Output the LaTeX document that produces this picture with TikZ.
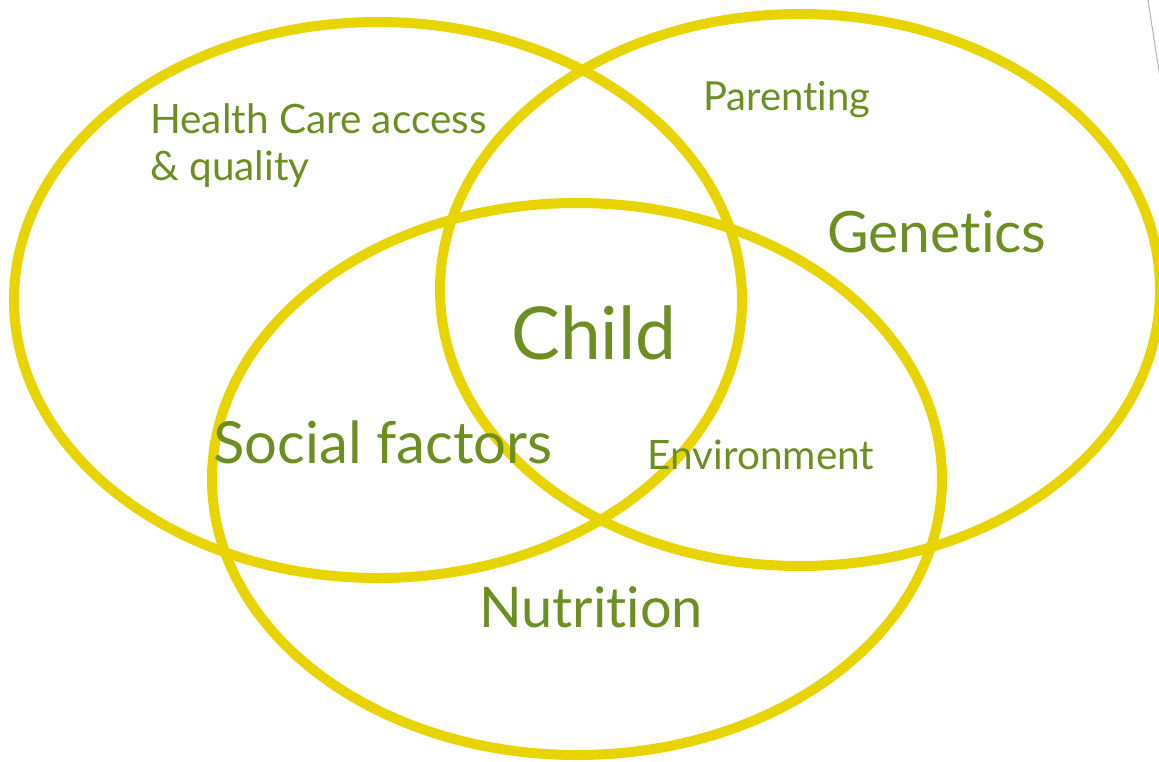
\documentclass[tikz,border=0pt]{standalone}
\usepackage{fontspec}
\setmainfont{Lato}[Ligatures={NoCommon,NoRare}]
\usepackage{tikz}

\definecolor{ringyellow}{RGB}{232,212,0}
\definecolor{labelgreen}{RGB}{109,143,34}

\begin{document}
\begin{tikzpicture}[x=1pt, y=-1pt,
  ring/.style={draw=ringyellow, line width=10pt},
  every node/.style={text=labelgreen, inner sep=0pt, anchor=center}]
  \useasboundingbox (0,0) rectangle (1159,761);
  \fill[white] (0,0) rectangle (1159,761);
  \draw[gray!60, line width=1pt] (1148,0) -- (1160,78);
  \draw[ring] (378,300) ellipse [x radius=364pt, y radius=278pt];
  \draw[ring] (800,290) ellipse [x radius=360pt, y radius=276pt];
  \draw[ring] (577,479) ellipse [x radius=365pt, y radius=276pt];
  \node [anchor=base west, align=left, font=\fontsize{40.5}{47}\selectfont] (health) at (150,180) {Health Care access\\\& quality};
  \node [font=\fontsize{40}{44}\selectfont] (parenting) at (787,100) {Parenting};
  \node [font=\fontsize{57}{62}\selectfont] (genetics) at (937,232) {Genetics};
  \node [font=\fontsize{73}{80}\selectfont] (child) at (594,333) {Child};
  \node [font=\fontsize{58}{64}\selectfont] (social) at (383,442) {Social factors};
  \node [font=\fontsize{40.5}{44}\selectfont] (environment) at (761,455) {Environment};
  \node [font=\fontsize{56}{62}\selectfont] (nutrition) at (591,607) {Nutrition};
\end{tikzpicture}
\end{document}
